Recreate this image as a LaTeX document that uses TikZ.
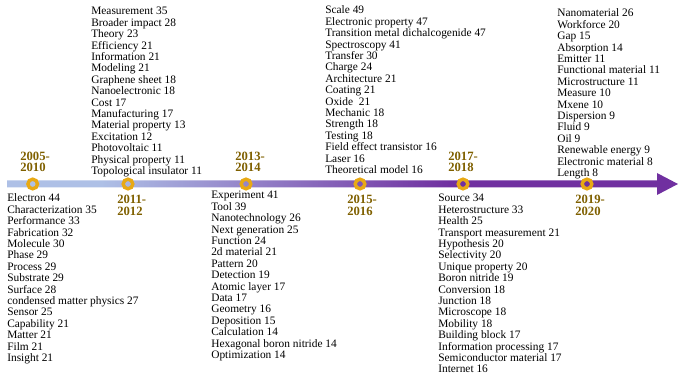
\documentclass[tikz,border=0pt]{standalone}
\usepackage{fontspec}
\setmainfont{Liberation Serif}
\usetikzlibrary{positioning}
\definecolor{barBlue}{HTML}{AEC0E6}
\definecolor{barPurple}{HTML}{7030A0}
\definecolor{ringGold}{HTML}{E8A914}
\definecolor{yearGold}{HTML}{7F6000}
\pgfdeclarehorizontalshading{barshade}{100bp}{color(0bp)=(barBlue); color(32bp)=(barBlue); color(58bp)=(barPurple); color(100bp)=(barPurple)}

\begin{document}
\begin{tikzpicture}[
  x=0.025cm, y=-0.025cm,
  kwlist/.style={inner sep=0pt, align=left, anchor=base west, font=\fontsize{8.1}{8.1}\selectfont},
  yearlab/.style={inner sep=0pt, align=left, anchor=base west, text=yearGold, font=\fontsize{9}{8.2}\selectfont\bfseries},
  ring/.style={circle, draw=ringGold, line width=0.085cm, minimum size=0.24cm, inner sep=0pt}
]
\useasboundingbox (0,0) rectangle (700,385);

% timeline bar with head
\shade[shading=barshade] (7,180.5) -- (657,180.5) -- (657,173) -- (678,184)
  -- (657,195) -- (657,187.5) -- (7,187.5) -- cycle;

\foreach \x [count=\i] in {32.7,128,246,360,463,587}
  \node[ring] (r\i) at (\x,184) {};

% years (anchored at last baseline)
\node[yearlab] (y1) at (20,172) {2005-\\2010};
\node[yearlab] (y2) at (117,215.5) {2011-\\2012};
\node[yearlab] (y3) at (235,172) {2013-\\2014};
\node[yearlab] (y4) at (347,215.5) {2015-\\2016};
\node[yearlab] (y5) at (448,172) {2017-\\2018};
\node[yearlab] (y6) at (575,215.5) {2019-\\2020};

\node[kwlist] (kw1) at (7,361.4)
  {Electron 44\\Characterization 35\\Performance 33\\Fabrication 32\\
   Molecule 30\\Phase 29\\Process 29\\Substrate 29\\Surface 28\\
   condensed matter physics 27\\Sensor 25\\Capability 21\\Matter 21\\
   Film 21\\Insight 21};
\node[kwlist] (kw2) at (91,174.4)
  {Measurement 35\\Broader impact 28\\Theory 23\\Efficiency 21\\
   Information 21\\Modeling 21\\Graphene sheet 18\\Nanoelectronic 18\\
   Cost 17\\Manufacturing 17\\Material property 13\\Excitation 12\\
   Photovoltaic 11\\Physical property 11\\Topological insulator 11};
\node[kwlist] (kw3) at (211,358.4)
  {Experiment 41\\Tool 39\\Nanotechnology 26\\Next generation 25\\
   Function 24\\2d material 21\\Pattern 20\\Detection 19\\Atomic layer 17\\
   Data 17\\Geometry 16\\Deposition 15\\Calculation 14\\
   Hexagonal boron nitride 14\\Optimization 14};
\node[kwlist] (kw4) at (325,173.4)
  {Scale 49\\Electronic property 47\\Transition metal dichalcogenide 47\\
   Spectroscopy 41\\Transfer 30\\Charge 24\\Architecture 21\\Coating 21\\
   Oxide\ \ 21\\Mechanic 18\\Strength 18\\Testing 18\\
   Field effect transistor 16\\Laser 16\\Theoretical model 16};
\node[kwlist] (kw5) at (438,372.8)
  {Source 34\\Heterostructure 33\\Health 25\\Transport measurement 21\\
   Hypothesis 20\\Selectivity 20\\Unique property 20\\Boron nitride 19\\
   Conversion 18\\Junction 18\\Microscope 18\\Mobility 18\\
   Building block 17\\Information processing 17\\
   Semiconductor material 17\\Internet 16};
\node[kwlist] (kw6) at (557,176.4)
  {Nanomaterial 26\\Workforce 20\\Gap 15\\Absorption 14\\Emitter 11\\
   Functional material 11\\Microstructure 11\\Measure 10\\Mxene 10\\
   Dispersion 9\\Fluid 9\\Oil 9\\Renewable energy 9\\
   Electronic material 8\\Length 8};
\end{tikzpicture}
\end{document}
